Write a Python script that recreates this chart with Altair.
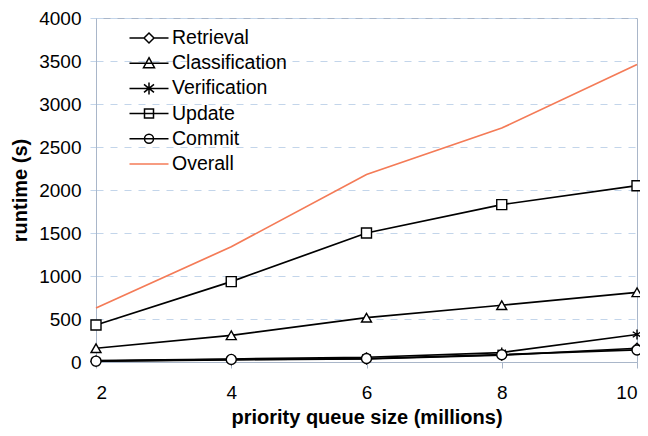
import altair as alt
import pandas as pd

sizes = [2, 4, 6, 8, 10]
series_names = ["Retrieval", "Classification", "Verification", "Update", "Commit", "Overall"]
retrieval = [10, 25, 35, 80, 160]
classification = [160, 310, 515, 660, 810]
verification = [15, 35, 55, 110, 320]
update = [430, 935, 1500, 1830, 2050]
commit = [10, 30, 40, 85, 140]
overall = [628, 1340, 2180, 2720, 3460]

values = [retrieval, classification, verification, update, commit, overall]
rows = []
for name, vals in zip(series_names, values):
    for s, v in zip(sizes, vals):
        rows.append({"size": s, "runtime": v, "series": name})
df = pd.DataFrame(rows)

colors = ["#000000", "#000000", "#000000", "#000000", "#000000", "#f47b57"]

L = 1.95
legend_paths = [
    f"M-{L},0L-0.5,0L0,-0.5L0.5,0L0,0.5L-0.5,0M0.5,0L{L},0",
    f"M-{L},0L{L},0M0,-0.55L0.55,0.45L-0.55,0.45Z",
    f"M-{L},0L{L},0M0,-0.6L0,0.6M-0.5,-0.4L0.5,0.4M-0.5,0.4L0.5,-0.4",
    f"M-{L},0L{L},0M-0.45,-0.45L0.45,-0.45L0.45,0.45L-0.45,0.45Z",
    f"M-{L},0L{L},0M0.45,0A0.45,0.45 0 1,1 -0.45,0A0.45,0.45 0 1,1 0.45,0Z",
    f"M-{L},0L{L},0",
]
marker_series = series_names[:5]
marker_shapes = [
    "diamond",
    "triangle-up",
    "M0,-1L0,1M-0.85,-0.55L0.85,0.55M-0.85,0.55L0.85,-0.55",
    "square",
    "circle",
]

grid_color = "#c3d5ea"
frame_color = "#a9b6c9"

x_enc = alt.X("size:Q", title="priority queue size (millions)",
              scale=alt.Scale(domain=[2, 10], nice=False),
              axis=alt.Axis(values=sizes, format="d", grid=False, tickSize=6,
                            labelPadding=15, titlePadding=5))
y_enc = alt.Y("runtime:Q", title="runtime (s)",
              scale=alt.Scale(domain=[0, 4000], nice=False),
              axis=alt.Axis(values=list(range(0, 4001, 500)), format="d", grid=True,
                            gridDash=[7, 7], gridColor=grid_color, tickSize=6,
                            tickColor=grid_color, labelPadding=9, titlePadding=8))

leg = alt.Legend(title=None, orient="none", legendX=42, legendY=9,
                 symbolSize=400, symbolOpacity=1, symbolStrokeWidth=1.5,
                 labelOffset=12, rowPadding=4.2, labelFontSize=19.5,
                 labelFont="Liberation Sans", labelColor="#000000",
                 symbolFillColor="transparent", labelLimit=300)
color_enc = alt.Color("series:N", scale=alt.Scale(domain=series_names, range=colors), legend=leg)

base = alt.Chart(df)

lines = base.mark_line(strokeWidth=1.7).encode(
    x=x_enc, y=y_enc, color=color_enc, detail="series:N",
)

point_layers = []
for name, shp in zip(marker_series, marker_shapes):
    point_layers.append(
        base.transform_filter(alt.datum.series == name).mark_point(
            shape=shp, filled=True, fill="white", stroke="black", strokeWidth=1.4,
            size=100, opacity=1,
        ).encode(x="size:Q", y="runtime:Q")
    )

legend_layer = base.mark_point(filled=False, opacity=0, strokeWidth=1.5).encode(
    x="size:Q", y="runtime:Q",
    shape=alt.Shape("series:N", scale=alt.Scale(domain=series_names, range=legend_paths), legend=leg),
    color=color_enc,
)

chart = alt.layer(lines, *point_layers, legend_layer).properties(
    width=541, height=344,
    autosize=alt.AutoSizeParams(type="none"),
    padding={"left": 88, "top": 10, "right": 3, "bottom": 66},
).configure_view(
    stroke=frame_color, strokeWidth=1
).configure_axis(
    labelFont="Liberation Sans", labelFontSize=19, labelColor="#000000",
    titleFont="Liberation Sans", titleFontSize=20, titleFontWeight="bold", titleColor="#000000",
    domainColor=frame_color, tickColor=frame_color,
)

chart.save("out.html", embed_options={"renderer": "svg", "actions": False})
